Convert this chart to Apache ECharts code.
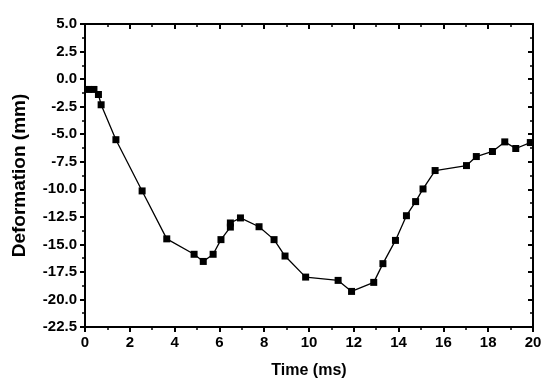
<!DOCTYPE html>
<html>
<head>
<meta charset="utf-8">
<script src="https://cdn.jsdelivr.net/npm/echarts@6/dist/echarts.min.js"></script>
<style>html,body{margin:0;padding:0;background:#fff}#c{width:550px;height:387px}</style>
</head>
<body>
<div id="c"></div>
<script>
var timeMs = [0.15, 0.4, 0.6, 0.72, 1.38, 2.55, 3.65, 4.87, 5.28, 5.72, 6.07, 6.49, 6.49, 6.94, 7.77, 8.44, 8.93, 9.85, 11.3, 11.9, 12.89, 13.3, 13.86, 14.35, 14.76, 15.09, 15.63, 17.03, 17.47, 18.19, 18.74, 19.23, 19.88];
var deformation = [-0.94, -0.94, -1.4, -2.33, -5.5, -10.15, -14.5, -15.9, -16.55, -15.9, -14.57, -13.43, -13.06, -12.6, -13.4, -14.57, -16.06, -17.97, -18.27, -19.27, -18.45, -16.75, -14.64, -12.4, -11.12, -9.97, -8.3, -7.85, -7.03, -6.57, -5.7, -6.3, -5.76];
var xTitle = 'Time (ms)';
var yTitle = 'Deformation (mm)';

var pts = timeMs.map(function (t, i) { return [t, deformation[i]]; });
var font = 'Liberation Sans, Arial, sans-serif';
var axisLine = { show: true, onZero: false, lineStyle: { color: '#000', width: 2 } };

var chart = echarts.init(document.getElementById('c'));
chart.setOption({
  animation: false,
  backgroundColor: '#fff',
  grid: { left: 85, right: 17, top: 24, bottom: 60, containLabel: false },
  xAxis: [{
    type: 'value', min: 0, max: 20, interval: 2, position: 'bottom',
    name: xTitle, nameLocation: 'middle', nameGap: 36,
    nameTextStyle: { fontFamily: font, fontWeight: 'bold', fontSize: 16, color: '#000' },
    axisLine: axisLine,
    axisTick: { show: true, inside: false, length: 5, lineStyle: { color: '#000', width: 2 } },
    minorTick: { show: true, splitNumber: 2, length: 3, lineStyle: { color: '#000', width: 1.5 } },
    axisLabel: { fontFamily: font, fontWeight: 'bold', fontSize: 15, color: '#000', margin: 8 },
    splitLine: { show: false }
  }, {
    type: 'value', min: 0, max: 20, interval: 2, position: 'top',
    axisLine: axisLine,
    axisTick: { show: true, inside: true, length: 5, lineStyle: { color: '#000', width: 2 } },
    minorTick: { show: true, splitNumber: 2, length: 3, lineStyle: { color: '#000', width: 1.5 } },
    axisLabel: { show: false }, splitLine: { show: false }
  }],
  yAxis: [{
    type: 'value', min: -22.5, max: 5, interval: 2.5, position: 'left',
    name: yTitle, nameLocation: 'middle', nameGap: 56, nameRotate: 90,
    nameTextStyle: { fontFamily: font, fontWeight: 'bold', fontSize: 19, color: '#000' },
    axisLine: axisLine,
    axisTick: { show: true, inside: false, length: 5, lineStyle: { color: '#000', width: 2 } },
    minorTick: { show: true, splitNumber: 2, length: 3, lineStyle: { color: '#000', width: 1.5 } },
    axisLabel: { fontFamily: font, fontWeight: 'bold', fontSize: 15, color: '#000', margin: 8,
      formatter: function (v) { return v.toFixed(1); } },
    splitLine: { show: false }
  }, {
    type: 'value', min: -22.5, max: 5, interval: 2.5, position: 'right',
    axisLine: axisLine,
    axisTick: { show: true, inside: true, length: 5, lineStyle: { color: '#000', width: 2 } },
    minorTick: { show: true, splitNumber: 2, length: 3, lineStyle: { color: '#000', width: 1.5 } },
    axisLabel: { show: false }, splitLine: { show: false }
  }],
  series: [{
    type: 'line', data: pts, xAxisIndex: 0, yAxisIndex: 0,
    symbol: 'rect', symbolSize: 7, showAllSymbol: true,
    lineStyle: { color: '#000', width: 1.3 },
    itemStyle: { color: '#000' }
  }]
});
</script>
</body>
</html>
